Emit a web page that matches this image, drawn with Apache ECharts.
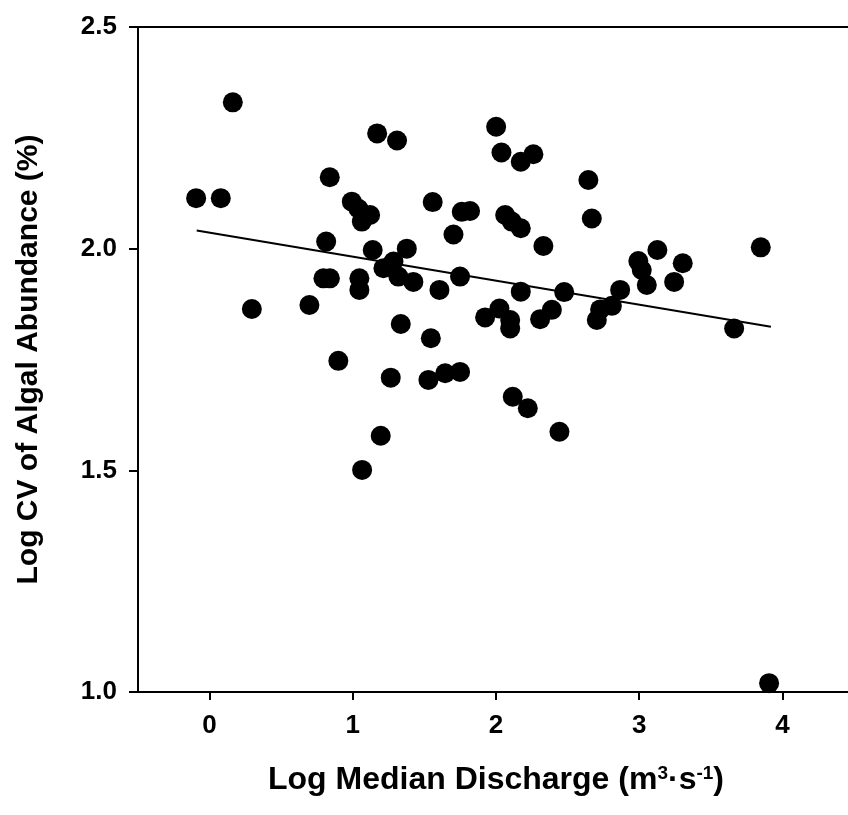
<!DOCTYPE html>
<html>
<head>
<meta charset="utf-8">
<script src="https://cdn.jsdelivr.net/npm/echarts@6/dist/echarts.min.js"></script>
<style>
html,body{margin:0;padding:0;background:#fff;overflow:hidden;}
#chart{width:848px;height:815px;}
</style>
</head>
<body>
<div id="chart"></div>
<script>
// Log median discharge (x) values
const discharge = [0.162,-0.094,0.078,1.170,1.309,0.839,0.993,1.040,1.121,1.063,0.814,1.139,1.377,1.214,1.284,1.318,1.423,0.795,0.840,1.046,1.046,0.697,0.295,1.335,0.899,1.265,1.195,1.065,2.001,2.038,2.173,2.261,2.645,2.669,1.558,1.761,1.819,1.703,2.064,2.110,2.173,2.331,3.127,2.994,3.018,3.053,3.304,3.244,3.849,1.605,1.749,2.173,2.476,2.867,1.545,1.924,2.024,2.099,2.099,2.308,2.390,2.704,2.727,2.809,3.663,1.528,1.645,1.749,2.117,2.222,2.443,3.907];
// Log CV of algal abundance (y) values
const cvAlgal = [2.330,2.114,2.114,2.260,2.244,2.161,2.106,2.090,2.076,2.061,2.016,1.997,2.000,1.956,1.971,1.937,1.925,1.933,1.933,1.933,1.907,1.873,1.864,1.830,1.747,1.709,1.578,1.501,2.275,2.217,2.196,2.213,2.155,2.068,2.105,2.083,2.085,2.032,2.076,2.061,2.046,2.006,1.997,1.972,1.952,1.918,1.967,1.925,2.003,1.907,1.937,1.903,1.902,1.907,1.798,1.845,1.865,1.839,1.820,1.841,1.862,1.839,1.863,1.871,1.820,1.704,1.719,1.722,1.666,1.640,1.587,1.020];
// Regression line end points
const trendX = [-0.09, 3.92];
const trendY = [2.041, 1.824];
// Tick labels
const xTicks = [0, 1, 2, 3, 4];
const yTicks = [1.0, 1.5, 2.0, 2.5];

const FONT = 'Liberation Sans';
const chart = echarts.init(document.getElementById('chart'), null, {renderer: 'canvas'});
chart.setOption({
  animation: false,
  backgroundColor: '#fff',
  grid: {left: 138, top: 27, width: 716, height: 665, show: true, borderColor: '#000', borderWidth: 2,
    containLabel: false, outerBoundsMode: 'none'},
  xAxis: {
    type: 'value', min: -0.5, max: 4.5,
    name: 'Log Median Discharge (m{sup|3}·s{sup|-1})',
    nameLocation: 'middle', nameGap: 72,
    nameTextStyle: {fontFamily: FONT, fontWeight: 'bold', fontSize: 32, color: '#000',
      rich: {sup: {fontFamily: FONT, fontWeight: 'bold', fontSize: 19, color: '#000', verticalAlign: 'top'}}},
    axisLine: {show: true, onZero: false, lineStyle: {color: '#000', width: 2}},
    axisTick: {show: true, inside: false, length: 8, lineStyle: {color: '#000', width: 2}, customValues: xTicks},
    axisLabel: {customValues: xTicks, margin: 21, fontFamily: FONT, fontWeight: 'bold', fontSize: 26, color: '#000'},
    splitLine: {show: false}
  },
  yAxis: {
    type: 'value', min: 1.0, max: 2.5, interval: 0.5,
    name: 'Log CV of Algal Abundance (%)',
    nameLocation: 'middle', nameGap: 94, nameRotate: 90,
    nameTextStyle: {fontFamily: FONT, fontWeight: 'bold', fontSize: 30, color: '#000'},
    axisLine: {show: true, onZero: false, lineStyle: {color: '#000', width: 2}},
    axisTick: {show: true, inside: false, length: 9, lineStyle: {color: '#000', width: 2}},
    axisLabel: {margin: 21, fontFamily: FONT, fontWeight: 'bold', fontSize: 26, color: '#000',
      formatter: v => yTicks.includes(v) ? v.toFixed(1) : ''},
    splitLine: {show: false}
  },
  series: [
    {
      type: 'scatter', symbol: 'circle', symbolSize: 20,
      itemStyle: {color: '#000', opacity: 1},
      data: discharge.map((x, i) => [x, cvAlgal[i]])
    },
    {
      type: 'line', showSymbol: false, symbol: 'none',
      lineStyle: {color: '#000', width: 2},
      data: trendX.map((x, i) => [x, trendY[i]])
    }
  ]
});
</script>
</body>
</html>
